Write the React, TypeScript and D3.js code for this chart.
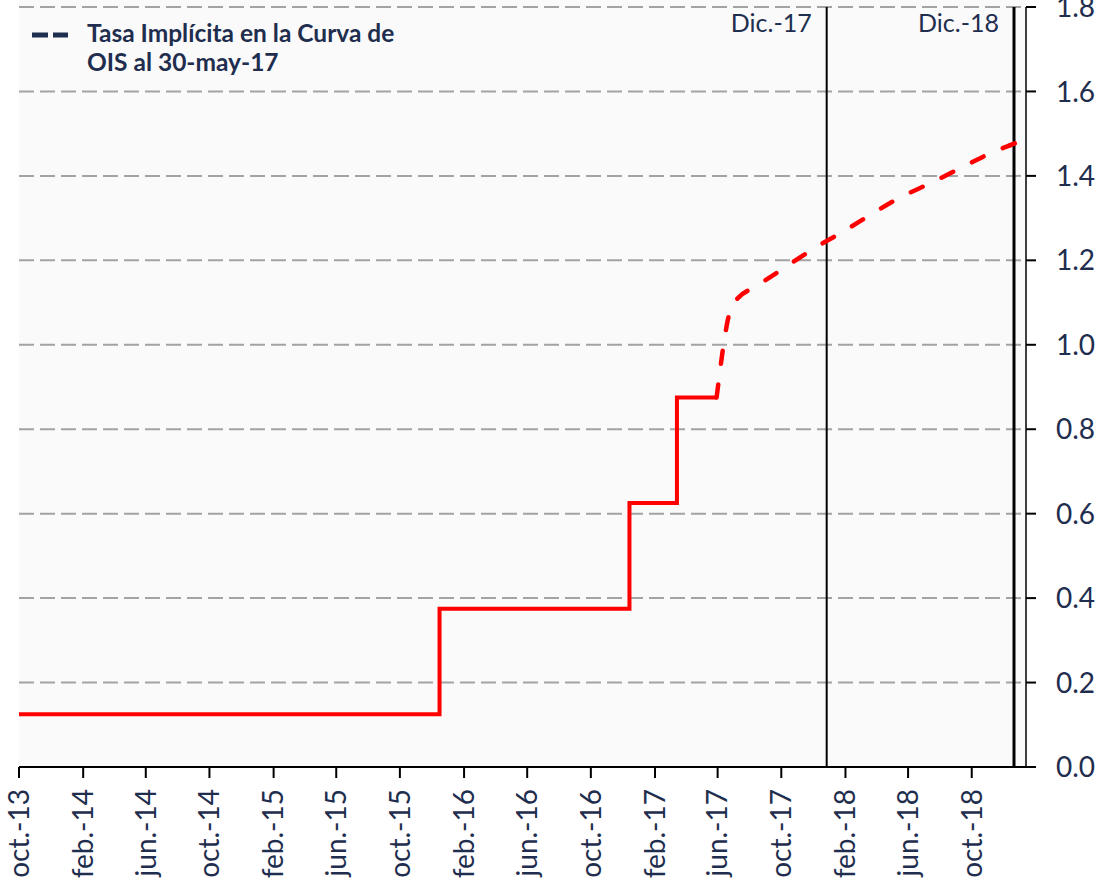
import React from "react";
import * as d3 from "d3";

const xTickLabels = ["oct.-13","feb.-14","jun.-14","oct.-14","feb.-15","jun.-15","oct.-15","feb.-16","jun.-16","oct.-16","feb.-17","jun.-17","oct.-17","feb.-18","jun.-18","oct.-18"];
const xTickDates = ["2013-10-01","2014-02-01","2014-06-01","2014-10-01","2015-02-01","2015-06-01","2015-10-01","2016-02-01","2016-06-01","2016-10-01","2017-02-01","2017-06-01","2017-10-01","2018-02-01","2018-06-01","2018-10-01"];
const yTicks = [0, 0.2, 0.4, 0.6, 0.8, 1.0, 1.2, 1.4, 1.6, 1.8];

// Fed funds target midpoint (solid step line)
const policyDates = ["2013-10-01","2015-12-16","2016-12-14","2017-03-15","2017-05-30"];
const policyValues = [0.125, 0.375, 0.625, 0.875, 0.875];

// Implied rate from OIS curve at 30-may-17 (dashed)
const oisDates = ["2017-05-30","2017-06-26","2017-07-06","2017-08-15","2017-10-09","2017-12-01","2018-01-26","2018-03-20","2018-05-11","2018-07-14","2018-09-09","2018-11-06","2019-01-02","2019-01-13"];
const oisValues = [0.875, 1.085, 1.105, 1.139, 1.184, 1.227, 1.267, 1.307, 1.345, 1.383, 1.418, 1.454, 1.483, 1.49];

const markerDates = ["2017-12-27","2018-12-21"];
const markerLabels = ["Dic.-17","Dic.-18"];

const legendLines = ["Tasa Implícita en la Curva de", "OIS al 30-may-17"];

const parse = d3.timeParse("%Y-%m-%d");

export default function App() {
  const W = 1102, H = 879;
  const left = 19, right = 1026, top = 7, bottom = 767;
  const x = d3.scaleTime().domain([parse("2013-10-01")!, parse("2019-01-13")!]).range([left, right]);
  const y = d3.scaleLinear().domain([0, 1.8]).range([bottom, top]);
  const navy = "#1f2e4e";
  const font = "Lato, 'Open Sans', sans-serif";

  const policy = policyDates.map((d, i) => ({ d: parse(d)!, v: policyValues[i] }));
  const ois = oisDates.map((d, i) => ({ d: parse(d)!, v: oisValues[i] }));

  const stepLine = d3.line<{ d: Date; v: number }>().x(p => x(p.d)).y(p => y(p.v)).curve(d3.curveStepAfter);
  const smoothLine = d3.line<{ d: Date; v: number }>().x(p => x(p.d)).y(p => y(p.v)).curve(d3.curveMonotoneX);

  return (
    <svg width={W} height={H} style={{ position: "absolute", left: 0, top: 0 }} fontFamily={font}>
      <defs>
        <clipPath id="plotclip">
          <rect x={left} y={0} width={right - left + 2} height={bottom} />
        </clipPath>
      </defs>
      <rect x={0} y={0} width={W} height={H} fill="#ffffff" />
      <rect x={left} y={0} width={right - left} height={bottom - 0} fill="#fafafa" />

      {/* gridlines */}
      {yTicks.filter(t => t > 0).map(t => (
        <line key={"g" + t} x1={left} x2={right} y1={y(t)} y2={y(t)} stroke="#a3a3a3" strokeWidth={2} strokeDasharray="15,6" />
      ))}

      {/* Dic markers */}
      {markerDates.map((d, i) => (
        <g key={"m" + i}>
          <line x1={x(parse(d)!)} x2={x(parse(d)!)} y1={top} y2={bottom} stroke="#000" strokeWidth={i === 0 ? 2 : 3} />
          <text x={x(parse(d)!) - 15} y={32} textAnchor="end" fontSize={25} fill={navy}>{markerLabels[i]}</text>
        </g>
      ))}

      {/* series */}
      <g clipPath="url(#plotclip)">
        <path d={stepLine(policy) || ""} fill="none" stroke="#ff0000" strokeWidth={4} strokeLinejoin="miter" />
        <path d={smoothLine(ois) || ""} fill="none" stroke="#ff0000" strokeWidth={4.5} strokeDasharray="13,21" strokeLinecap="round" />
      </g>

      {/* x axis */}
      <line x1={left} x2={right + 1} y1={bottom} y2={bottom} stroke="#000" strokeWidth={2} />
      {xTickDates.map((d, i) => {
        const tx = x(parse(d)!);
        return (
          <g key={"xt" + i}>
            <line x1={tx} x2={tx} y1={bottom} y2={bottom + 11} stroke="#000" strokeWidth={2} />
            <text transform={`translate(${tx},789) rotate(-90)`} textAnchor="end" dy="0.35em" fontSize={28} fill={navy}>{xTickLabels[i]}</text>
          </g>
        );
      })}

      {/* y axis right */}
      <line x1={right} x2={right} y1={top} y2={bottom} stroke="#000" strokeWidth={1.5} />
      {yTicks.map(t => (
        <g key={"yt" + t}>
          <line x1={right} x2={right + 10} y1={y(t)} y2={y(t)} stroke="#000" strokeWidth={2} />
          <text x={1056} y={y(t)} dy="0.36em" fontSize={28} fill={navy}>{t.toFixed(1)}</text>
        </g>
      ))}

      {/* legend */}
      <line x1={32} x2={68} y1={35} y2={35} stroke={navy} strokeWidth={5} strokeDasharray="16,5" />
      {legendLines.map((l, i) => (
        <text key={"l" + i} x={87} y={42 + i * 29} fontSize={24.5} fontWeight="bold" fill={navy}>{l}</text>
      ))}
    </svg>
  );
}
